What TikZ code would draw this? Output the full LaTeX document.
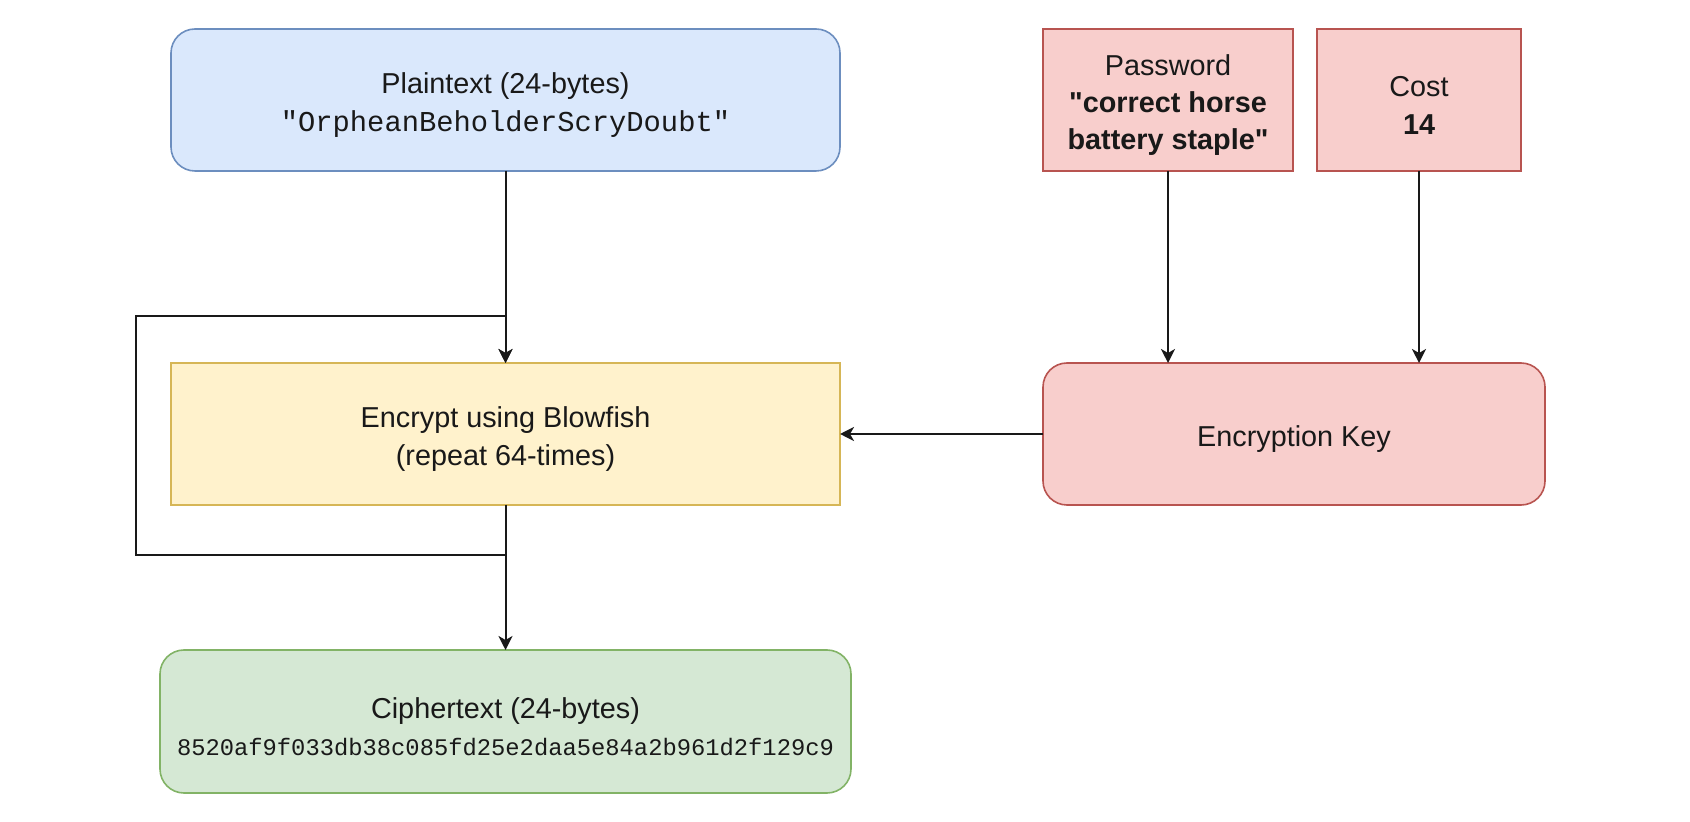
\documentclass[tikz,border=0pt]{standalone}
\usepackage{fontspec}
\setmainfont{Liberation Sans}[Ligatures=TeXOff]
\setmonofont{Liberation Mono}
\usetikzlibrary{arrows.meta}
\definecolor{bfill}{HTML}{DAE8FC}\definecolor{bline}{HTML}{6C8EBF}
\definecolor{yfill}{HTML}{FFF2CC}\definecolor{yline}{HTML}{D6B656}
\definecolor{rfill}{HTML}{F8CECC}\definecolor{rline}{HTML}{B85450}
\definecolor{gfill}{HTML}{D5E8D4}\definecolor{gline}{HTML}{82B366}
\newcommand\dn{\rule{0pt}{15.5pt}}
\tikzset{
  box/.style={rectangle, inner sep=0pt, outer sep=0pt, line width=0.8pt, align=center,
    font=\fontsize{14.4}{18.7}\selectfont, text=black!90},
  rbox/.style={box, rounded corners=12pt},
  conn/.style={line width=1pt, black!90},
  arr/.style={conn, -{Stealth[length=7pt,width=7pt,inset=2pt]}},
}
\begin{document}
\begin{tikzpicture}[x=0.5pt,y=-0.5pt]
\useasboundingbox (0,0) rectangle (1690,822);
\node[rbox, fill=bfill, draw=bline, minimum width=334.5pt, minimum height=71pt] (pt) at (505.5,100)
  {\dn Plaintext (24-bytes)\\\texttt{"OrpheanBeholderScryDoubt"}};
\node[box, fill=yfill, draw=yline, minimum width=334.5pt, minimum height=71pt] (enc) at (505.5,434)
  {\dn Encrypt using Blowfish\\(repeat 64-times)};
\node[rbox, fill=gfill, draw=gline, minimum width=345.5pt, minimum height=71.5pt] (ct) at (505.5,721.5)
  {\dn Ciphertext (24-bytes)\\{\fontsize{11.9}{18}\selectfont\ttfamily 8520af9f033db38c085fd25e2daa5e84a2b961d2f129c9}};
\node[box, fill=rfill, draw=rline, minimum width=125pt, minimum height=71pt] (pw) at (1168,100)
  {\dn Password\\\textbf{"correct horse}\\\textbf{battery staple"}};
\node[box, fill=rfill, draw=rline, minimum width=102pt, minimum height=71pt] (cost) at (1419,100)
  {\dn Cost\\\textbf{14}};
\node[rbox, fill=rfill, draw=rline, minimum width=251pt, minimum height=71pt] (key) at (1294,434)
  {\dn Encryption Key};
\coordinate (lb) at (136,555);
\coordinate (lt) at (136,316);
\draw[arr] (pt.south) -- (enc.north);
\draw[arr] (enc.south) |- (lb) -- (lt) -| (enc.north);
\draw[arr] (enc.south) -- (ct.north);
\draw[arr] (pw.south) -- (pw.south |- key.north);
\draw[arr] (cost.south) -- (cost.south |- key.north);
\draw[arr] (key.west) -- (enc.east);
\end{tikzpicture}
\end{document}
